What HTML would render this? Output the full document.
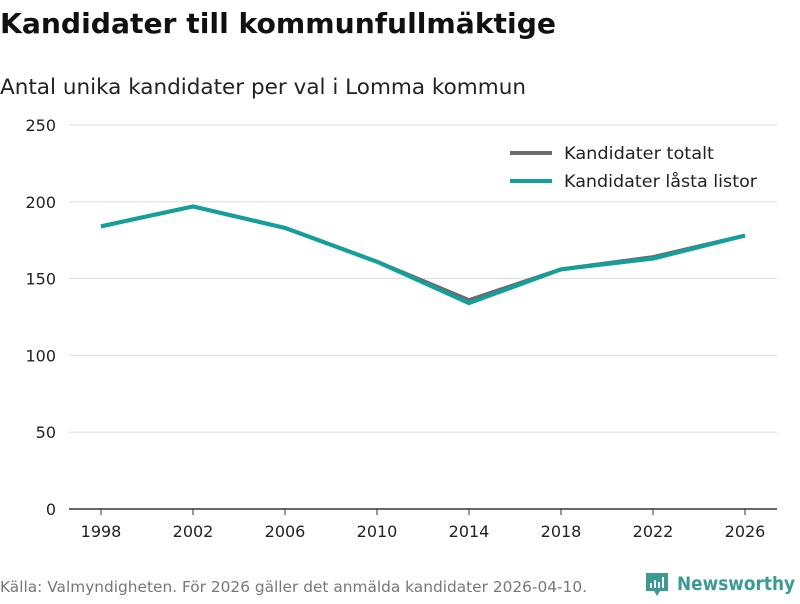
<!DOCTYPE html>
<html><head><meta charset="utf-8"><style>
body{margin:0;width:800px;height:600px;background:#fff;font-family:"DejaVu Sans","Liberation Sans",sans-serif;overflow:hidden}
</style></head><body>
<svg width="800" height="600">
<text x="0" y="33" font-size="28" font-weight="bold" fill="#111" textLength="556" lengthAdjust="spacingAndGlyphs">Kandidater till kommunfullmäktige</text>
<text x="0" y="94" font-size="21" fill="#222" textLength="526" lengthAdjust="spacingAndGlyphs">Antal unika kandidater per val i Lomma kommun</text>
<g id="grid"></g>
<g id="xaxis"></g>
<g id="lines"></g>
<g>
<line x1="510" y1="153" x2="552" y2="153" stroke="#6b6b6f" stroke-width="4"/>
<text x="564" y="159" font-size="17" fill="#222" textLength="150" lengthAdjust="spacingAndGlyphs">Kandidater totalt</text>
<line x1="510" y1="181" x2="552" y2="181" stroke="#12a09a" stroke-width="4"/>
<text x="564" y="187" font-size="17" fill="#222" textLength="193" lengthAdjust="spacingAndGlyphs">Kandidater låsta listor</text>
</g>
<text x="0" y="592" font-size="15" fill="#777" textLength="587" lengthAdjust="spacingAndGlyphs">Källa: Valmyndigheten. För 2026 gäller det anmälda kandidater 2026-04-10.</text>
<g>
<path d="M646 573h22v18h-8l-3 5-3-5h-8z" fill="#3a9b93"/>
<rect x="650" y="583" width="2" height="5" fill="#fff"/><rect x="654" y="580" width="2" height="8" fill="#fff"/><rect x="658" y="582" width="2" height="6" fill="#fff"/><rect x="662" y="577" width="2" height="11" fill="#fff"/>
<text x="677" y="590" font-size="19" font-weight="bold" fill="#3a9b93" textLength="118" lengthAdjust="spacingAndGlyphs">Newsworthy</text>
</g>
</svg>
<script>
const years=[1998,2002,2006,2010,2014,2018,2022,2026];
const total=[184,197,183,161,136,156,164,178];
const locked=[184,197,183,161,134,156,163,178];
const yTicks=[0,50,100,150,200,250];
const ns="http://www.w3.org/2000/svg";
const x=i=>101+i*92, y=v=>509-v*384/250;
function mk(t,a,p){const e=document.createElementNS(ns,t);for(const k in a)e.setAttribute(k,a[k]);p.appendChild(e);return e;}
const g=document.getElementById('grid'),xa=document.getElementById('xaxis'),L=document.getElementById('lines');
yTicks.forEach(v=>{
 const l=mk('line',{x1:69,x2:777,y1:y(v),y2:y(v),stroke:v===0?'#333':'#ddd','stroke-width':v===0?1.5:1},g);
 
 
 const t=mk('text',{x:56,y:y(v)+6,'font-size':16,fill:'#222','text-anchor':'end'},g);t.textContent=v;
 
 
});
years.forEach((yr,i)=>{
 const tk=mk('line',{x1:x(i),x2:x(i),y1:509,y2:515,stroke:'#333'},xa);
 
 
 const t=mk('text',{x:x(i),y:537,'font-size':16,fill:'#222','text-anchor':'middle'},xa);t.textContent=yr;
 
 
});
[[total,'#6b6b6f','line-total'],[locked,'#12a09a','line-locked']].forEach(([d,c,n])=>{
 const p=mk('polyline',{points:d.map((v,i)=>x(i)+','+y(v)).join(' '),fill:'none',stroke:c,'stroke-width':4,'stroke-linejoin':'round'},L);
 
 
});
</script>
</body></html>
